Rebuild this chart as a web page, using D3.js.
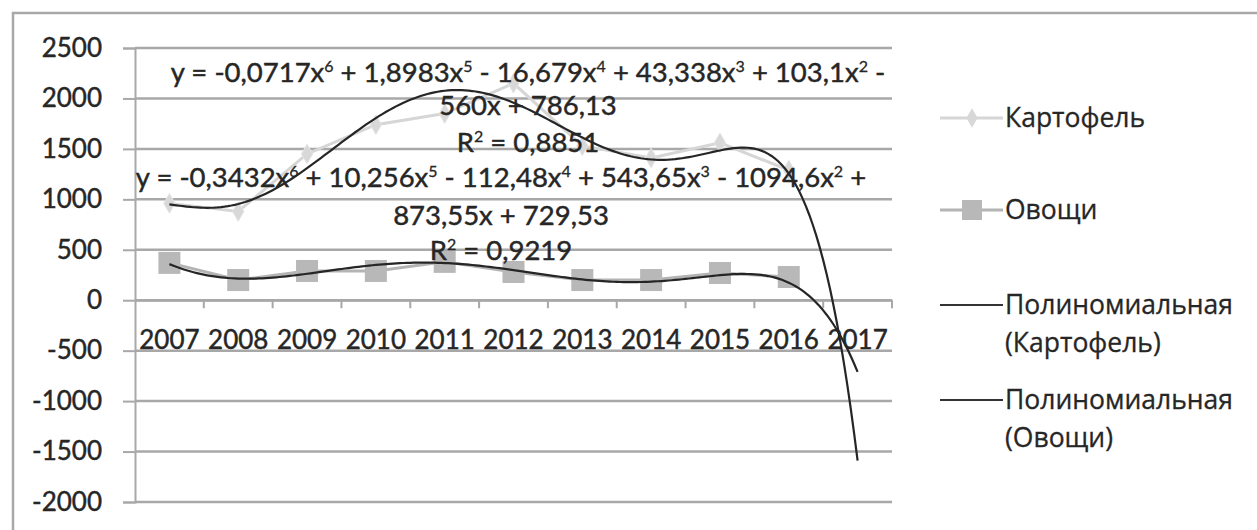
<!DOCTYPE html>
<html><head><meta charset="utf-8">
<script src="https://cdn.jsdelivr.net/npm/d3@7"></script>
<style>
html,body{margin:0;padding:0;background:#fff;}
svg{display:block;}
</style></head>
<body>
<svg id="chart" width="1257" height="530"></svg>
<script>
// ---- data ----
const years = ["2007","2008","2009","2010","2011","2012","2013","2014","2015","2016","2017"];
const potatoes = [960, 880, 1450, 1740, 1850, 2150, 1530, 1410, 1560, 1290, null];   // Картофель
const vegetables = [370, 200, 290, 290, 380, 280, 200, 200, 270, 230, null];          // Овощи
const yTicks = [2500, 2000, 1500, 1000, 500, 0, -500, -1000, -1500, -2000];
// trendline coefficients as printed on the chart (x^6 ... x^0), x = 1..11
const trendVegCoef = [-0.0717, 1.8983, -16.679, 43.338, 103.1, -560, 786.13];
const trendPotCoef = [-0.3432, 10.256, -112.48, 543.65, -1094.6, 873.55, 729.53];
const r2Labels = ["0,8851", "0,9219"];
const legendLabels = [["Картофель"], ["Овощи"], ["Полиномиальная", "(Картофель)"], ["Полиномиальная", "(Овощи)"]];

const svg = d3.select("#chart");
const FONT = "Lato, 'Open sans', sans-serif";
const TXT = "#262626";
const textStyle = (sel, size = 26) => sel.attr("font-family", FONT).attr("font-size", size).attr("fill", TXT)
  .attr("stroke", TXT).attr("stroke-width", 0.45);

// outer chart border
svg.append("rect").attr("x", 13).attr("y", 13).attr("width", 1400).attr("height", 700)
  .attr("fill", "none").attr("stroke", "#a8a8a8").attr("stroke-width", 2.5);

const x = d3.scaleBand().domain(years).range([135, 892]).padding(0);
const y = d3.scaleLinear().domain([-2000, 2500]).range([502, 48]);
const cx = d => x(d) + x.bandwidth() / 2;
const xc = d3.scaleLinear().domain([1, years.length]).range([cx(years[0]), cx(years[years.length - 1])]);

// gridlines + y axis
const yAxis = d3.axisLeft(y).tickValues(yTicks).tickSize(12).tickFormat(d => String(d));
const gy = svg.append("g").attr("transform", "translate(135,0)").call(yAxis);
gy.select(".domain").attr("stroke", "#a8a8a8").attr("stroke-width", 2);
gy.selectAll(".tick line").attr("stroke", "#a8a8a8").attr("stroke-width", 2);
gy.selectAll(".tick text").attr("x", -33).call(textStyle);
svg.append("g").selectAll("line").data(yTicks).join("line")
  .attr("x1", 135).attr("x2", 892).attr("y1", d => y(d)).attr("y2", d => y(d))
  .attr("stroke", "#a8a8a8").attr("stroke-width", 2.5);

// x axis at 0
const xAxis = d3.axisBottom(x).tickSize(0).tickSizeOuter(0);
const gx = svg.append("g").attr("transform", `translate(0,${y(0)})`).call(xAxis);
gx.select(".domain").attr("stroke", "#a8a8a8").attr("stroke-width", 2);
gx.selectAll(".tick text").attr("y", 40).attr("dy", "0.32em").call(textStyle);
svg.append("g").selectAll("line").data(years.slice(1).concat(["end"])).join("line")
  .attr("x1", d => d === "end" ? x.range()[1] : x(d)).attr("x2", d => d === "end" ? x.range()[1] : x(d))
  .attr("y1", y(0)).attr("y2", y(0) + 8).attr("stroke", "#a8a8a8").attr("stroke-width", 2);

// series lines
const line = d3.line().defined(d => d[1] != null).x(d => cx(d[0])).y(d => y(d[1]));
svg.append("path").datum(years.map((yr, i) => [yr, potatoes[i]])).attr("d", line)
  .attr("fill", "none").attr("stroke", "#d6d6d6").attr("stroke-width", 3);
svg.append("path").datum(years.map((yr, i) => [yr, vegetables[i]])).attr("d", line)
  .attr("fill", "none").attr("stroke", "#b4b4b4").attr("stroke-width", 3);

const diamond = d3.symbol().type(d3.symbolDiamond).size(110);
svg.append("g").selectAll("path").data(years.map((yr, i) => [yr, potatoes[i]]).filter(d => d[1] != null)).join("path")
  .attr("d", diamond).attr("transform", d => `translate(${cx(d[0])},${y(d[1])})`)
  .attr("fill", "#d8d8d8").attr("stroke", "#e4e4e4");
svg.append("g").selectAll("rect").data(years.map((yr, i) => [yr, vegetables[i]]).filter(d => d[1] != null)).join("rect")
  .attr("x", d => cx(d[0]) - 11).attr("y", d => y(d[1]) - 11).attr("width", 22).attr("height", 22)
  .attr("fill", "#b8b8b8");

// polynomial trendlines from printed coefficients
function poly(c, t) { return c.reduce((acc, k) => acc * t + k, 0); }
const ts = d3.range(1, years.length + 0.0001, 0.05);
const tline = d3.line().x(d => xc(d[0])).y(d => y(d[1]));
[trendVegCoef, trendPotCoef].forEach(c => {
  svg.append("path").datum(ts.map(t => [t, poly(c, t)])).attr("d", tline)
    .attr("fill", "none").attr("stroke", "#262626").attr("stroke-width", 2.2);
});

// equation labels
function fmt(v) { return String(Math.abs(v)).replace(".", ","); }
function eqLine(c, from, to) {
  const segs = [];
  for (let i = from; i < to; i++) {
    const p = 6 - i, v = c[i];
    let sign = v < 0 ? " - " : " + ";
    if (i === 0) sign = v < 0 ? "-" : "";
    if (i === from && i !== 0) sign = "";
    let body = fmt(v);
    if (p >= 1) body += "x";
    segs.push([sign + body, p >= 2 ? String(p) : ""]);
  }
  return segs;
}
function writeSegs(t, segs) {
  segs.forEach(s => {
    t.append("tspan").text(s[0]);
    if (s[1]) t.append("tspan").attr("font-size", 16).attr("baseline-shift", 10).attr("stroke-width", 0.3).text(s[1]);
  });
}
function drawEq(c, cxp, ys, r2) {
  const l1 = [["y = ", ""]].concat(eqLine(c, 0, 5));
  l1.push([c[5] < 0 ? " -" : " +", ""]);
  const l2 = eqLine(c, 5, 7);
  [l1, l2, [["R", "2"], [" = " + r2, ""]]].forEach((segs, li) => {
    const t = svg.append("text").attr("x", cxp).attr("y", ys[li]).attr("text-anchor", "middle")
      .attr("xml:space", "preserve").call(textStyle, 27.5);
    writeSegs(t, segs);
  });
}
drawEq(trendVegCoef, 528, [82, 115, 152], r2Labels[0]);
drawEq(trendPotCoef, 501, [187, 225, 260], r2Labels[1]);

// legend
const lg = svg.append("g");
const legY = [118, 210, 305, 400];
lg.append("line").attr("x1", 940).attr("x2", 1003).attr("y1", legY[0]).attr("y2", legY[0]).attr("stroke", "#d6d6d6").attr("stroke-width", 3);
lg.append("path").attr("d", diamond).attr("transform", `translate(972,${legY[0]})`).attr("fill", "#d8d8d8");
lg.append("line").attr("x1", 940).attr("x2", 1003).attr("y1", legY[1]).attr("y2", legY[1]).attr("stroke", "#b4b4b4").attr("stroke-width", 3);
lg.append("rect").attr("x", 962).attr("y", legY[1] - 10).attr("width", 20).attr("height", 20).attr("fill", "#b8b8b8");
[2, 3].forEach(i => lg.append("line").attr("x1", 940).attr("x2", 1003).attr("y1", legY[i]).attr("y2", legY[i]).attr("stroke", "#333").attr("stroke-width", 2.2));
legendLabels.forEach((lab, i) => {
  lab.forEach((s, j) => {
    lg.append("text").attr("x", 1005).attr("y", legY[i] + 9 + j * 38).attr("font-family", "'Open Sans', sans-serif")
      .attr("font-size", 26.5).attr("fill", TXT).attr("stroke", TXT).attr("stroke-width", 0.3).text(s);
  });
});
</script>
</body></html>
